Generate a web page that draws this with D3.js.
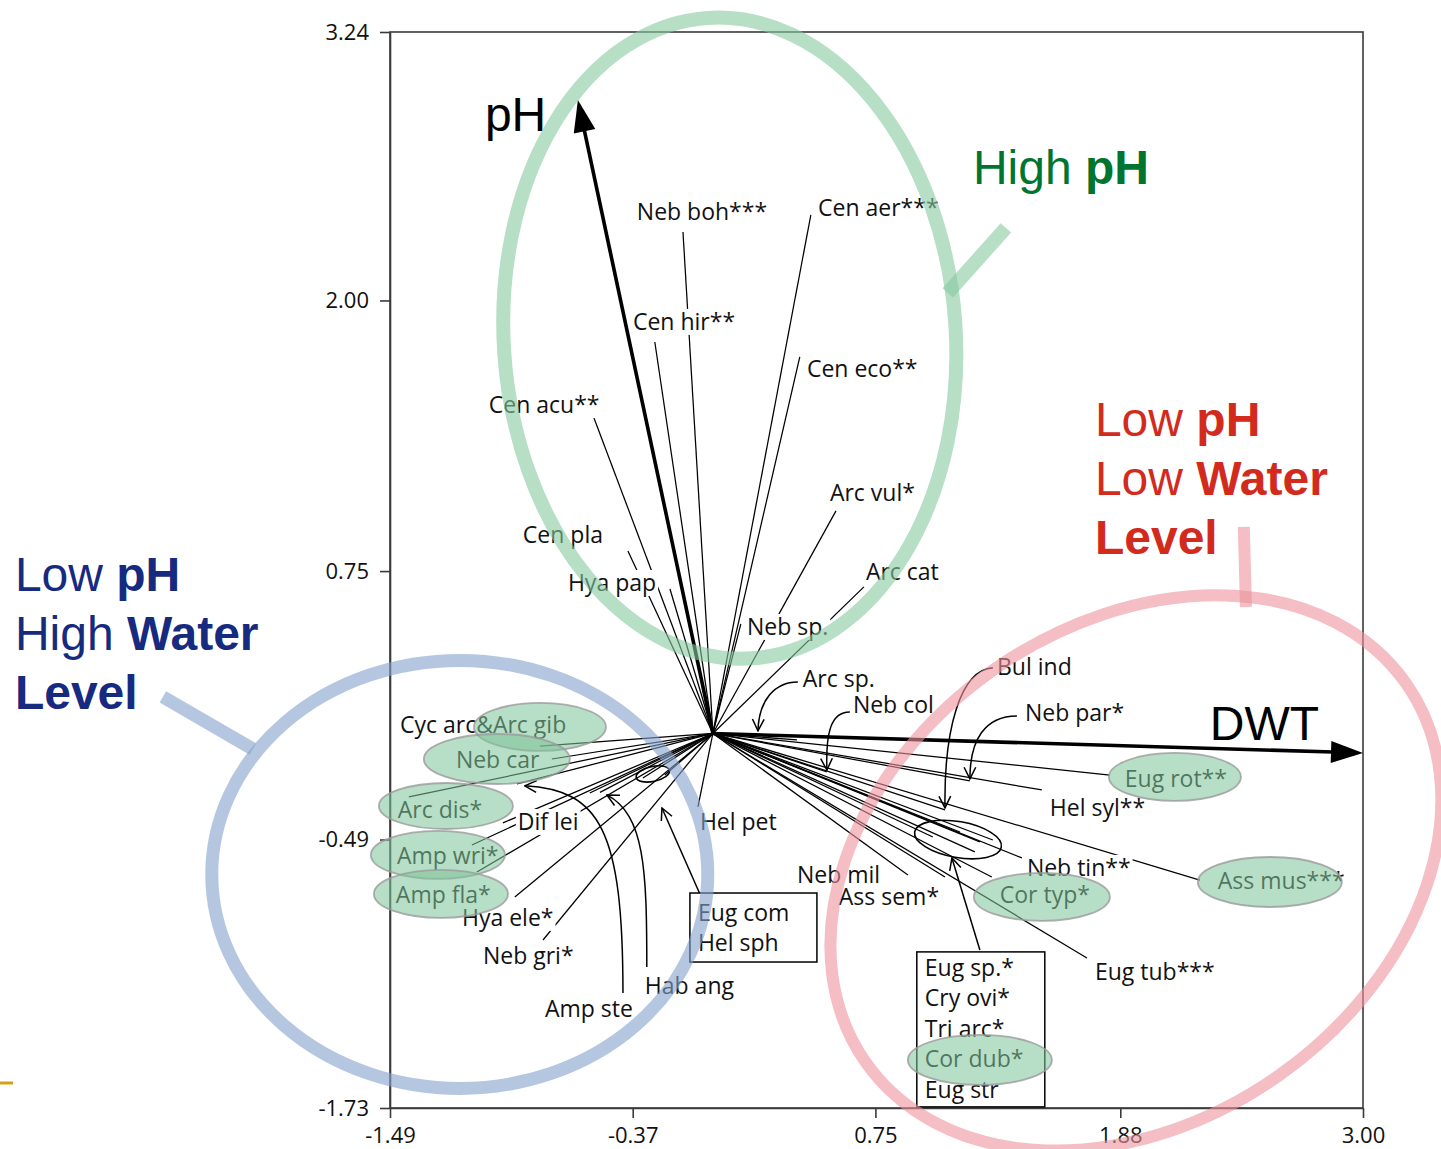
<!DOCTYPE html>
<html><head><meta charset="utf-8">
<script src="https://cdn.jsdelivr.net/npm/d3@7"></script>
<style>body{margin:0;background:#fff;} svg{display:block;}</style>
</head><body>
<svg id="chart" width="1441" height="1149"></svg>
<script>
// ---------- DATA ----------
const xTicks = [-1.49, -0.37, 0.75, 1.88, 3.00];
const yTicks = [3.24, 2.00, 0.75, -0.49, -1.73];

// environmental vectors
const envNames = ["pH", "DWT"];
const envX = [-0.623, 3.000];
const envY = [2.926, -0.090];
const envLabelX = [-1.052, 2.293];
const envLabelY = [2.783, -0.030];

// species vector end points (RDA scores)
const speciesNames = ["Neb boh***","Cen hir**","Cen aer***","Cen eco**","Cen acu**","Cen pla","Hya pap","Arc vul*","Arc cat","Neb sp.",
  "Arc sp.","Neb col","Bul ind","Neb par*","Eug rot**","Hel syl**","Ass mus***","Neb tin**","Cor typ*","Eug tub***","Neb mil","Ass sem*",
  "Hel pet","Cyc arc&Arc gib","Neb car","Arc dis*","Amp ste","Dif lei","Amp wri*","Amp fla*","Hya ele*","Neb gri*","Hab ang",
  "Eug sp.*","Cry ovi*","Tri arc*","Cor dub*","Eug str","Eug com","Hel sph","(unlabelled)"];
const speciesX = [-0.138,-0.268,0.452,0.401,-0.554,-0.392,-0.198,0.568,0.697,0.129,
  0.388,0.526,1.071,1.186,1.832,1.518,2.247,1.426,1.287,1.726,0.900,1.071,
  -0.069,-0.798,-0.743,-1.403,-0.904,-0.969,-1.112,-1.089,-0.914,-0.784,-0.521,
  1.015,1.140,1.232,1.292,1.209,-0.323,-0.222,-0.568];
const speciesY = [2.316,1.808,2.395,1.739,1.471,0.843,0.667,1.028,0.677,0.506,
  -0.030,-0.178,-0.353,-0.219,-0.192,-0.261,-0.677,-0.575,-0.663,-1.037,-0.654,-0.663,
  -0.339,-0.058,-0.118,-0.293,-0.233,-0.413,-0.515,-0.640,-0.755,-0.954,-0.272,
  -0.478,-0.455,-0.501,-0.492,-0.547,-0.206,-0.192,-0.275];

// species label anchors (left, baseline)
const labelNames = ["Neb boh***","Cen aer***","Cen hir**","Cen eco**","Cen acu**","Cen pla","Hya pap","Arc vul*","Arc cat","Neb sp.",
  "Arc sp.","Neb col","Bul ind","Neb par*","Eug rot**","Hel syl**","Ass mus***","Neb tin**","Cor typ*","Eug tub***","Neb mil","Ass sem*",
  "Hel pet","Cyc arc&Arc gib","Neb car","Arc dis*","Dif lei","Amp wri*","Amp fla*","Hya ele*","Neb gri*","Amp ste","Hab ang"];
const labelX = [-0.351,0.485,-0.369,0.434,-1.034,-0.877,-0.669,0.540,0.706,0.157,
  0.415,0.646,1.311,1.440,1.901,1.555,2.330,1.449,1.324,1.763,0.388,0.581,
  -0.060,-1.444,-1.186,-1.454,-0.900,-1.458,-1.463,-1.158,-1.061,-0.775,-0.314];
const labelY = [2.372,2.390,1.864,1.647,1.480,0.880,0.658,1.074,0.709,0.455,
  0.215,0.095,0.270,0.058,-0.247,-0.381,-0.718,-0.658,-0.783,-1.139,-0.691,-0.792,
  -0.446,0.002,-0.159,-0.390,-0.446,-0.603,-0.783,-0.889,-1.065,-1.309,-1.203];

// highlighted (green) species
const highlightNames = ["&Arc gib","Neb car","Arc dis*","Amp wri*","Amp fla*","Eug rot**","Ass mus***","Cor typ*","Cor dub*"];
const highlightX = [-0.798,-0.997,-1.232,-1.269,-1.255,2.132,2.570,1.518,1.232];
const highlightY = [0.030,-0.118,-0.335,-0.561,-0.741,-0.201,-0.686,-0.755,-1.508];

// boxed species groups
const box1Lines = ["Eug com","Hel sph"];
const box1Anchor = [-0.106, -0.737];
const box2Lines = ["Eug sp.*","Cry ovi*","Tri arc*","Cor dub*","Eug str"];
const box2Anchor = [0.941, -1.009];

// small grouping ellipses (centres)
const groupEllipseX = [1.131, -0.277];
const groupEllipseY = [-0.490, -0.187];

// curved pointer arrows: start, ctrl1, ctrl2, end
const curveArrows = [
  [0.392,0.238, 0.286,0.238, 0.212,0.155, 0.208,0.012],     // Arc sp.
  [0.632,0.099, 0.540,0.099, 0.521,-0.007, 0.526,-0.169],   // Neb col
  [1.292,0.303, 1.140,0.293, 1.066,0.016, 1.071,-0.344],    // Bul ind
  [1.403,0.081, 1.255,0.081, 1.186,-0.030, 1.186,-0.210],   // Neb par*
  [-0.305,-1.079, -0.305,-0.630, -0.314,-0.376, -0.489,-0.284], // Hab ang
  [-0.415,-1.199, -0.415,-0.446, -0.521,-0.261, -0.868,-0.242]  // Amp ste
];
const straightArrows = [
  [1.232,-1.000, 1.103,-0.575],   // box Eug sp. -> ellipse
  [-0.005,-0.866, -0.235,-0.344]  // box Eug com -> ellipse
];

// region rings (centres) and pointer ticks
const regionNames = ["High pH","Low pH Low Water Level","Low pH High Water Level"];
const regionX = [0.078, 1.952, -1.168];
const regionY = [1.826, -0.644, -0.651];
const pointerLines = [
  [1.084,2.035, 1.352,2.335],
  [2.450,0.954, 2.460,0.584],
  [-2.123,-0.072, -2.538,0.169]
];
const calloutX = [1.200, 1.763, -3.221];
const calloutY = [2.538, 1.375, 0.658];

// ---------- SCALES ----------
const svg = d3.select("#chart");
const x = d3.scaleLinear().domain([-1.49, 3.00]).range([390, 1363]);
const y = d3.scaleLinear().domain([-1.73, 3.24]).range([1108, 32]);
const X0 = x(0), Y0 = y(0);

const defs = svg.append("defs");
defs.append("marker").attr("id","chev").attr("viewBox","0 0 12 12")
  .attr("refX",11).attr("refY",6).attr("markerWidth",14).attr("markerHeight",14)
  .attr("markerUnits","userSpaceOnUse").attr("orient","auto")
  .append("path").attr("d","M1,1 L11,6 L1,11").attr("fill","none")
  .attr("stroke","#000").attr("stroke-width",1.3);

// ---------- AXES ----------
const gAx = svg.append("g");
gAx.append("rect").attr("x",x(-1.49)).attr("y",y(3.24))
  .attr("width",x(3.00)-x(-1.49)).attr("height",y(-1.73)-y(3.24))
  .attr("fill","none").attr("stroke","#3a3a3a").attr("stroke-width",1.6);
const yAxis = gAx.append("g").attr("transform",`translate(${x(-1.49)},0)`)
  .call(d3.axisLeft(y).tickValues(yTicks).tickFormat(d=>d.toFixed(2)).tickSize(10).tickSizeOuter(0).tickPadding(11));
const xAxis = gAx.append("g").attr("transform",`translate(0,${y(-1.73)})`)
  .call(d3.axisBottom(x).tickValues(xTicks).tickFormat(d=>d.toFixed(2)).tickSize(10).tickSizeOuter(0).tickPadding(9));
[yAxis,xAxis].forEach(a=>{
  a.select(".domain").attr("stroke","#3a3a3a").attr("stroke-width",1.6);
  a.selectAll(".tick line").attr("stroke","#3a3a3a").attr("stroke-width",1.6);
  a.selectAll(".tick text").attr("font-family","'Open Sans', sans-serif").attr("font-size",22).attr("fill","#111");
});

// ---------- SPECIES LINES ----------
svg.append("g").selectAll("line").data(speciesNames).join("line")
  .attr("x1",X0).attr("y1",Y0)
  .attr("x2",(d,i)=>x(speciesX[i])).attr("y2",(d,i)=>y(speciesY[i]))
  .attr("stroke","#000").attr("stroke-width",1.25);

// ---------- ENV ARROWS ----------
const gEnv = svg.append("g");
envNames.forEach((n,i)=>{
  const tx = x(envX[i]), ty = y(envY[i]);
  const dx = tx-X0, dy = ty-Y0, L = Math.hypot(dx,dy);
  const ux = dx/L, uy = dy/L, hl = 32, hw = 11;
  const bx = tx-ux*hl, by = ty-uy*hl;
  gEnv.append("line").attr("x1",X0).attr("y1",Y0).attr("x2",bx+ux*2).attr("y2",by+uy*2)
    .attr("stroke","#000").attr("stroke-width",3.6);
  gEnv.append("path").attr("d",`M${tx},${ty} L${bx-uy*hw},${by+ux*hw} L${bx+uy*hw},${by-ux*hw} Z`).attr("fill","#000");
  gEnv.append("text").attr("x",x(envLabelX[i])).attr("y",y(envLabelY[i]))
    .attr("font-family","'Liberation Sans', Arial, sans-serif").attr("font-size",48).attr("fill","#000").text(n);
});

// ---------- POINTER ARROWS ----------
const gArr = svg.append("g").attr("fill","none").attr("stroke","#000").attr("stroke-width",1.5);
curveArrows.forEach(p=>{
  gArr.append("path")
    .attr("d",`M${x(p[0])},${y(p[1])} C${x(p[2])},${y(p[3])} ${x(p[4])},${y(p[5])} ${x(p[6])},${y(p[7])}`)
    .attr("marker-end","url(#chev)");
});
straightArrows.forEach(p=>{
  gArr.append("path").attr("d",`M${x(p[0])},${y(p[1])} L${x(p[2])},${y(p[3])}`).attr("marker-end","url(#chev)");
});

// small group ellipses
const grpR = [[44,18,10],[17,7.5,-12]];
groupEllipseX.forEach((cx,i)=>{
  svg.append("ellipse").attr("transform",`translate(${x(cx)},${y(groupEllipseY[i])}) rotate(${grpR[i][2]})`)
    .attr("rx",grpR[i][0]).attr("ry",grpR[i][1]).attr("fill","none").attr("stroke","#000").attr("stroke-width",1.6);
});

// ---------- BOXES ----------
const fontSp = "'Open Sans', sans-serif";
function drawBox(lines, anchor, w, h, first, step){
  const bx = x(anchor[0]), by = y(anchor[1]);
  const g = svg.append("g");
  g.append("rect").attr("x",bx).attr("y",by).attr("width",w).attr("height",h)
    .attr("fill","#fff").attr("stroke","#000").attr("stroke-width",1.5);
  lines.forEach((t,i)=>g.append("text").attr("x",bx+8).attr("y",by+first+i*step)
    .attr("font-family",fontSp).attr("font-size",23).attr("fill","#111").text(t));
}
drawBox(box1Lines, box1Anchor, 127, 69, 28, 30);
drawBox(box2Lines, box2Anchor, 128, 155, 24, 30.5);

// ---------- LABELS ----------
const hlSet = new Set(["Neb car","Arc dis*","Amp wri*","Amp fla*","Eug rot**","Ass mus***","Cor typ*","Cyc arc&Arc gib"]);
const gLab = svg.append("g");
labelNames.forEach((t,i)=>{
  const g = gLab.append("g");
  const tx = g.append("text").attr("x",x(labelX[i])).attr("y",y(labelY[i]))
    .attr("font-family",fontSp).attr("font-size",23).attr("fill","#111").text(t);
  if(!hlSet.has(t)){
    const b = tx.node().getBBox();
    g.insert("rect","text").attr("x",b.x-2).attr("y",b.y+4).attr("width",b.width+4)
      .attr("height",b.height-6).attr("fill","#fff");
  }
});

// highlight ellipses (translucent, on top of text)
const hlRx = [66,73,67,67,67,66,72,68,72], hlRy = [24,25,23,24,24,24,25,24,25];
svg.append("g").selectAll("ellipse").data(highlightNames).join("ellipse")
  .attr("cx",(d,i)=>x(highlightX[i])).attr("cy",(d,i)=>y(highlightY[i]))
  .attr("rx",(d,i)=>hlRx[i]).attr("ry",(d,i)=>hlRy[i])
  .attr("fill","rgb(126,196,154)").attr("fill-opacity",0.56)
  .attr("stroke","#9a9a9a").attr("stroke-opacity",0.8).attr("stroke-width",1.8);

// ---------- REGION RINGS ----------
const ringColor = ["rgb(135,202,160)","rgb(237,147,157)","rgb(132,163,205)"];
const ringGeom = [[226,321,-4,14],[330,248,-35,12],[248,214,0,13]];
const gRing = svg.append("g");
regionNames.forEach((n,i)=>{
  const gi = gRing.append("g").attr("opacity",0.6);
  gi.append("ellipse").attr("transform",`translate(${x(regionX[i])},${y(regionY[i])}) rotate(${ringGeom[i][2]})`)
    .attr("rx",ringGeom[i][0]).attr("ry",ringGeom[i][1]).attr("fill","none")
    .attr("stroke",ringColor[i]).attr("stroke-width",ringGeom[i][3]);
  const p = pointerLines[i];
  gRing.append("line").attr("x1",x(p[0])).attr("y1",y(p[1])).attr("x2",x(p[2])).attr("y2",y(p[3]))
    .attr("stroke",ringColor[i]).attr("stroke-width",ringGeom[i][3]).attr("opacity",0.6);
});

// ---------- CALLOUT TEXTS ----------
const fontC = "'Liberation Sans', Arial, sans-serif";
const calloutLines = [
  [[["High ",400],["pH",700]]],
  [[["Low ",400],["pH",700]],[["Low ",400],["Water",700]],[["Level",700]]],
  [[["Low ",400],["pH",700]],[["High ",400],["Water",700]],[["Level",700]]]
];
const calloutColor = ["#00752f","#d22b1e","#162a80"];
calloutLines.forEach((lines,i)=>{
  lines.forEach((parts,j)=>{
    const t = svg.append("text").attr("x",x(calloutX[i])).attr("y",y(calloutY[i])+j*59)
      .attr("font-family",fontC).attr("font-size",48).attr("fill",calloutColor[i]);
    parts.forEach(pt=>t.append("tspan").attr("font-weight",pt[1]).text(pt[0]));
  });
});

// decorative slide mark
svg.append("line").attr("x1",0).attr("x2",13).attr("y1",1083).attr("y2",1083)
  .attr("stroke","#d4a017").attr("stroke-width",3);
</script>
</body></html>
